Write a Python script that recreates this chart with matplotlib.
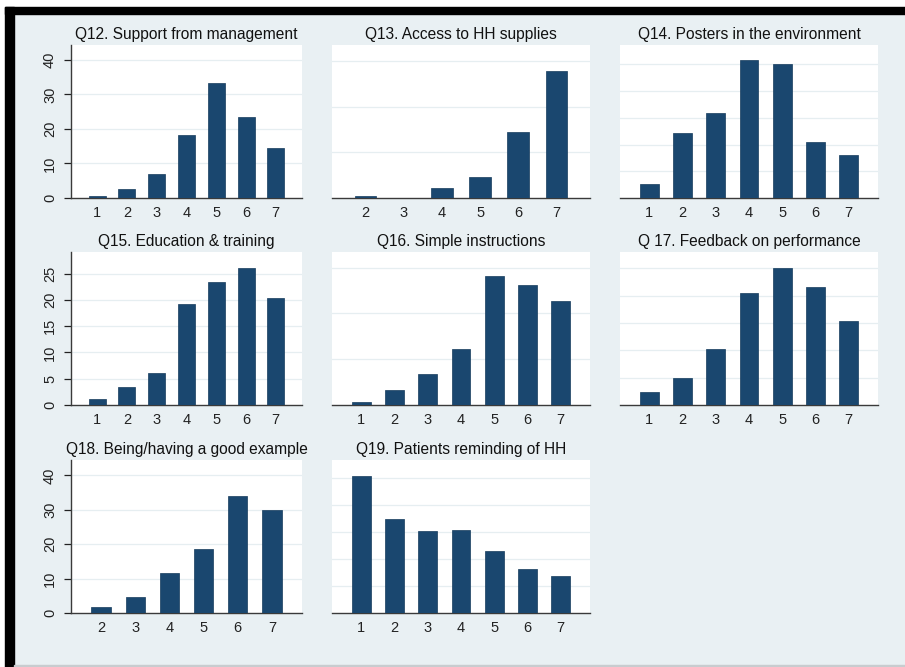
import matplotlib.pyplot as plt
from matplotlib.patches import Rectangle

plt.rcParams['font.family'] = ['Liberation Sans', 'DejaVu Sans']

# percentage answering each scale point, per question
titles = ['Q12. Support from management', 'Q13. Access to HH supplies',
          'Q14. Posters in the environment', 'Q15. Education & training',
          'Q16. Simple instructions', 'Q 17. Feedback on performance',
          'Q18. Being/having a good example', 'Q19. Patients reminding of HH']

cats_q12 = [1, 2, 3, 4, 5, 6, 7]
vals_q12 = [0.7, 2.7, 6.9, 18.2, 33.3, 23.5, 14.6]
cats_q13 = [2, 3, 4, 5, 6, 7]
vals_q13 = [0.7, 0.0, 4.4, 9.2, 28.8, 55.6]
cats_q14 = [1, 2, 3, 4, 5, 6, 7]
vals_q14 = [2.7, 12.1, 15.8, 25.8, 25.1, 10.5, 8.0]
cats_q15 = [1, 2, 3, 4, 5, 6, 7]
vals_q15 = [1.2, 3.4, 6.0, 19.3, 23.3, 26.1, 20.4]
cats_q16 = [1, 2, 3, 4, 5, 6, 7]
vals_q16 = [0.7, 3.2, 6.7, 12.3, 28.1, 26.2, 22.7]
cats_q17 = [1, 2, 3, 4, 5, 6, 7]
vals_q17 = [2.3, 4.9, 10.3, 20.5, 25.0, 21.6, 15.4]
cats_q18 = [2, 3, 4, 5, 6, 7]
vals_q18 = [1.6, 4.7, 11.7, 18.7, 33.9, 29.9]
cats_q19 = [1, 2, 3, 4, 5, 6, 7]
vals_q19 = [25.5, 17.4, 15.2, 15.4, 11.5, 8.2, 6.9]

cats = [cats_q12, cats_q13, cats_q14, cats_q15, cats_q16, cats_q17, cats_q18, cats_q19]
vals = [vals_q12, vals_q13, vals_q14, vals_q15, vals_q16, vals_q17, vals_q18, vals_q19]

# y axis: (grid step, upper limit, show labels)
yaxes = [(10, 44.3, True), (20, 67.0, False), (5, 28.6, False),
         (5, 29.1, True), (10, 33.4, False), (5, 28.0, False),
         (10, 44.5, True), (5, 28.4, False)]

W, H = 905, 667
bg = '#e9f0f3'
navy = '#1a476f'

fig = plt.figure(figsize=(W / 100, H / 100), dpi=100, facecolor='white')

def px_rect(x0, y0, x1, y1, color):
    fig.patches.append(Rectangle((x0 / W, 1 - y1 / H), (x1 - x0) / W, (y1 - y0) / H,
                                 transform=fig.transFigure, color=color, zorder=-10))

# frame
px_rect(14, 14, 905, 665, bg)
px_rect(5, 7, 905, 14, 'black')
px_rect(5, 7, 14, 667, 'black')
px_rect(14, 665, 905, 667, '#c8cccf')

cols_x = [(71, 302), (332, 590), (620, 878)]
rows_y = [(45, 198), (252, 405), (460, 613)]

for i in range(8):
    r, c = divmod(i, 3)
    x0, x1 = cols_x[c]
    y0, y1 = rows_y[r]
    ax = fig.add_axes([x0 / W, 1 - y1 / H, (x1 - x0) / W, (y1 - y0) / H])
    ax.set_facecolor('white')
    n = len(cats[i])
    pos = list(range(n))
    ax.bar(pos, vals[i], width=0.57, color=navy, edgecolor='#153b5c', linewidth=0.5, zorder=3)
    ax.set_xlim(-0.88, n - 1 + 0.88)
    step, top, show = yaxes[i]
    ax.set_ylim(0, top)
    ticks = [t for t in range(0, int(top) + 1, step)]
    ax.set_yticks(ticks)
    for t in ticks[1:]:
        ax.axhline(t, color='#e6eef1', lw=0.9, zorder=1)
    ax.set_xticks(pos)
    ax.set_xticklabels([str(k) for k in cats[i]], fontsize=10.5)
    ax.tick_params(axis='x', length=0, pad=6, colors='#222222')
    for s in ['top', 'right']:
        ax.spines[s].set_visible(False)
    ax.spines['bottom'].set_color('#3a3a3a')
    ax.spines['bottom'].set_linewidth(1.0)
    if show:
        ax.spines['left'].set_color('#3a3a3a')
        ax.spines['left'].set_linewidth(1.0)
        ax.set_yticklabels([str(t) for t in ticks], rotation=90, va='center', fontsize=10.5)
        ax.tick_params(axis='y', length=5, width=0.9, pad=5, colors='#222222')
    else:
        ax.spines['left'].set_visible(False)
        ax.tick_params(axis='y', length=0, labelleft=False)
    ax.set_title(titles[i], fontsize=11.2, pad=4, color='#111111')

fig.savefig('out.png', dpi=100, facecolor=fig.get_facecolor())
